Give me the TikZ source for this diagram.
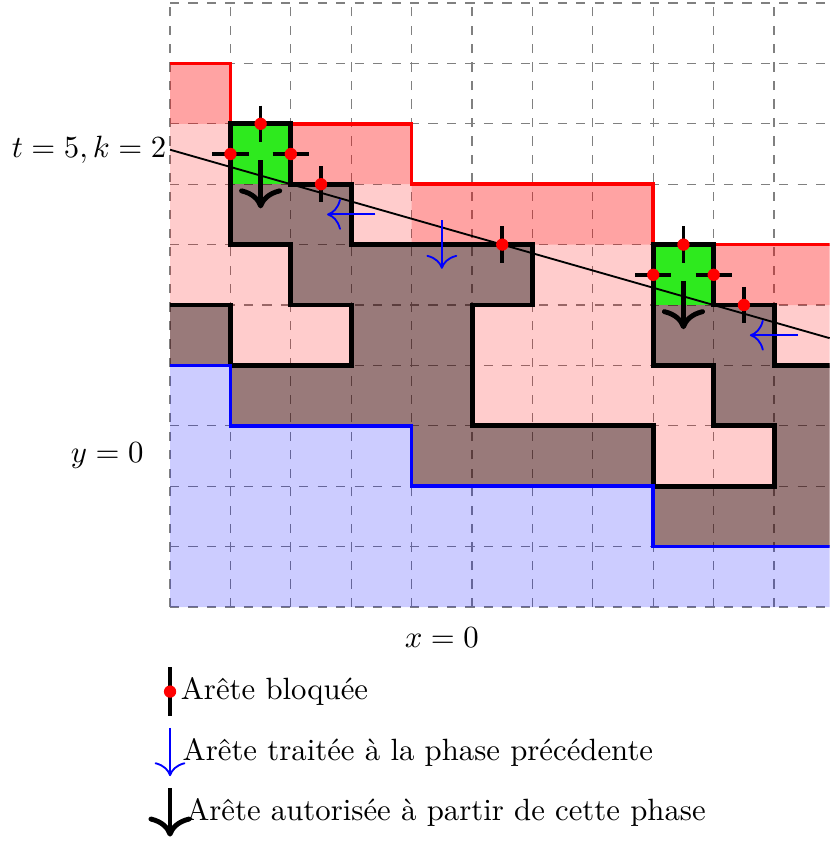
\documentclass[tikz,border=0pt]{standalone}
\usepackage{fontspec}
\usepackage{tikz}
\usetikzlibrary{arrows.meta, positioning}
\definecolor{VertCase}{RGB}{46,234,30}

\begin{document}
\begin{tikzpicture}[
  x=0.69cm, y=0.69cm,
  grille/.style={gray, dashed, thin, step=1},
  zone/.style={fill opacity=0.2},
  bord/.style={very thick},
  mur/.style={black, ultra thick},
  bloquee/.style={black, very thick},
  pastille/.style={red},
  traitee/.style={blue, semithick,
                  -{Computer Modern Rightarrow[length=4.5pt, width=10pt]}},
  autorisee/.style={black, ultra thick,
                    -{Computer Modern Rightarrow[length=6.5pt, width=14pt]}},
  legende/.style={anchor=west}
]
\useasboundingbox (-2.815,-3.89) rectangle (10.92,10.05);

\begin{scope}
\clip (-0.1,-0.1) rectangle (10.92,10.1);
\draw[grille] (0,0) grid (11,10);

% zones
\fill[blue, zone] (0,0) -| (10.92,1) -- (8,1) |- (4,2) |- (1,3) |- (0,4) -- cycle;
\fill[red, zone] (0,9) -| (1,8) -| (4,7) -| (8,6) -- (10.92,6) -- (10.92,1)
  -- (8,1) |- (4,2) |- (1,3) |- (0,4) -- cycle;
\fill[red, zone] (0,9) -| (1,8) -| (4,7) -| (8,6) -- (10.92,6) -- (10.92,5)
  -- (8,5) |- (4,6) |- (1,7) |- (0,8) -- cycle;
\fill[black, fill opacity=0.4] (1,4) -| (3,5) -| (2,6) -| (1,8) -| (2,7) -| (3,6)
  -| (6,5) -| (5,3) -| (8,2) -| (10,3) -| (9,4) -| (8,6) -| (9,5) -| (10,4)
  -- (10.92,4) -- (10.92,1) -- (8,1) |- (4,2) |- (1,3) -- cycle;
\fill[black, fill opacity=0.4] (0,4) rectangle (1,5);
\fill[VertCase] (1,7) rectangle (2,8);
\fill[VertCase] (8,5) rectangle (9,6);

% frontieres
\draw[red, bord] (0,9) -| (1,8) -| (4,7) -| (8,6) -- (10.92,6);
\draw[mur] (1,4) -| (3,5) -| (2,6) -| (1,8) -| (2,7) -| (3,6)
  -| (6,5) -| (5,3) -| (8,2) -| (10,3) -| (9,4) -| (8,6) -| (9,5) -| (10,4)
  -- (10.92,4);
\draw[mur] (0,5) -| (1,4);
\draw[blue, bord] (0,4) -| (1,3) -| (4,2) -| (8,1) -- (10.92,1);

\coordinate (finDroite) at (10.92,4.4514);
\end{scope}

\node[left, inner sep=1pt] (etiqT) at (0,7.5714) {$t=5,k=2$};
\draw[semithick] (etiqT.east) -- (finDroite);

% aretes
\foreach \x/\y in {1.5/8, 2.5/7, 5.5/6, 8.5/6, 9.5/5} {
  \draw[bloquee] (\x,\y+0.3) -- (\x,\y-0.3);
  \fill[pastille] (\x,\y) circle (2pt);
}
\foreach \x/\y in {1/7.5, 2/7.5, 8/5.5, 9/5.5} {
  \draw[bloquee] (\x-0.3,\y) -- (\x+0.3,\y);
  \fill[pastille] (\x,\y) circle (2pt);
}
\draw[traitee] (3.4,6.5) -- (2.6,6.5);
\draw[traitee] (4.5,6.4) -- (4.5,5.6);
\draw[traitee] (10.4,4.5) -- (9.6,4.5);
\draw[autorisee] (1.5,7.4) -- (1.5,6.6);
\draw[autorisee] (8.5,5.4) -- (8.5,4.6);

\node (etiqY) at (-1.04,2.5) {$y=0$};
\node (etiqX) at (4.5,-0.5) {$x=0$};

% legende
\draw[bloquee] (0,-1) -- (0,-1.8);
\fill[pastille] (0,-1.4) circle (2pt);
\node[legende] (legBloquee) at (0,-1.4) {Arête bloquée};
\draw[traitee] (0,-2) -- (0,-2.8);
\node[legende] (legTraitee) at (0.03,-2.4) {Arête traitée à la phase précédente};
\draw[autorisee] (0,-3) -- (0,-3.8);
\node[legende] (legAutorisee) at (0.09,-3.4) {Arête autorisée à partir de cette phase};
\end{tikzpicture}
\end{document}
